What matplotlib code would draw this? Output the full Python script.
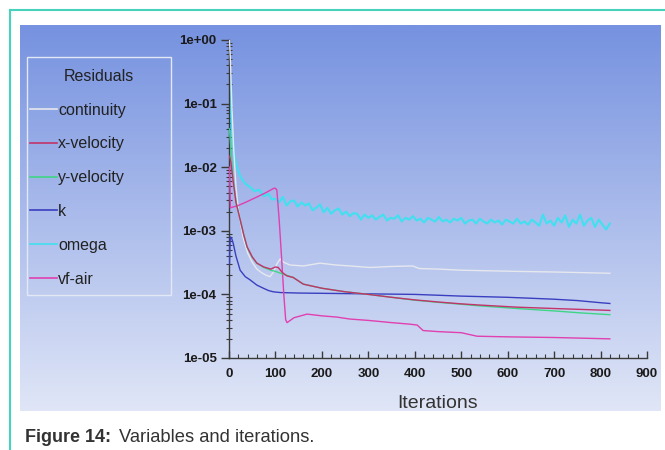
import numpy as np
import matplotlib
matplotlib.use("Agg")
import matplotlib.pyplot as plt
from matplotlib.lines import Line2D
from matplotlib.patches import Rectangle
from matplotlib.ticker import FuncFormatter, LogLocator, MultipleLocator

plt.rcParams['font.family'] = ['Liberation Sans', 'DejaVu Sans']

# ---------------- data ----------------
series_names = ["continuity", "x-velocity", "y-velocity", "k", "omega", "vf-air"]

cont_it = [1, 3, 6, 10, 15, 20, 30, 40, 50, 60, 70, 80, 88, 95, 103, 110, 118, 131, 160, 196, 230, 260, 304, 350, 395, 410, 450, 500, 560, 620, 700, 760, 820]
cont_val = [1.0, 0.5, 0.1, 0.02, 5e-3, 2.2e-3, 8e-4, 4.5e-4, 3.2e-4, 2.5e-4, 2.2e-4, 2.0e-4, 1.9e-4, 2.2e-4, 3.0e-4, 3.6e-4, 3.2e-4, 2.9e-4, 2.8e-4, 3.1e-4, 2.9e-4, 2.8e-4, 2.65e-4, 2.75e-4, 2.8e-4, 2.55e-4, 2.5e-4, 2.4e-4, 2.35e-4, 2.3e-4, 2.25e-4, 2.2e-4, 2.15e-4]

xvel_it = [1, 4, 9, 15, 24, 32, 39, 50, 60, 75, 90, 100, 106, 115, 125, 138, 160, 200, 250, 300, 350, 400, 450, 500, 540, 620, 700, 760, 820]
xvel_val = [0.015, 0.012, 6e-3, 2.8e-3, 1.5e-3, 8.5e-4, 5.6e-4, 3.9e-4, 3.1e-4, 2.7e-4, 2.5e-4, 2.7e-4, 2.65e-4, 2.2e-4, 1.95e-4, 1.85e-4, 1.45e-4, 1.25e-4, 1.1e-4, 1.0e-4, 9.0e-5, 8.2e-5, 7.6e-5, 7.1e-5, 6.8e-5, 6.3e-5, 6.0e-5, 5.8e-5, 5.6e-5]

yvel_it = [1, 4, 9, 15, 24, 32, 39, 50, 60, 75, 90, 100, 115, 138, 160, 200, 250, 300, 350, 400, 450, 500, 540, 620, 700, 760, 820]
yvel_val = [0.04, 0.02, 6.5e-3, 2.9e-3, 1.5e-3, 8.5e-4, 5.5e-4, 3.8e-4, 3.1e-4, 2.65e-4, 2.4e-4, 2.3e-4, 2.1e-4, 1.85e-4, 1.45e-4, 1.25e-4, 1.1e-4, 1.0e-4, 9.0e-5, 8.1e-5, 7.5e-5, 7.0e-5, 6.6e-5, 6.0e-5, 5.5e-5, 5.1e-5, 4.8e-5]

k_it = [1, 2, 3, 6, 9, 15, 24, 35, 45, 60, 73, 85, 95, 110, 150, 200, 300, 400, 450, 500, 550, 600, 650, 700, 750, 800, 820]
k_val = [3e-4, 6e-4, 8e-4, 7.5e-4, 6.4e-4, 4e-4, 2.4e-4, 1.9e-4, 1.7e-4, 1.4e-4, 1.26e-4, 1.15e-4, 1.1e-4, 1.07e-4, 1.05e-4, 1.04e-4, 1.02e-4, 1.0e-4, 9.7e-5, 9.4e-5, 9.2e-5, 9.0e-5, 8.7e-5, 8.4e-5, 8.0e-5, 7.4e-5, 7.2e-5]

omega_it = [1, 3, 6, 10, 17, 25, 35, 45, 55, 65, 75, 85, 92,
            100, 108, 116, 124, 132, 140, 148, 156, 164, 172, 180, 188, 196, 204, 212, 220, 228, 236, 244, 252,
            260, 268, 276, 284, 292, 300, 308, 316, 324, 332, 340, 348, 356, 364, 372, 380, 388, 396, 404, 412,
            420, 428, 436, 444, 452, 460, 468, 476, 484, 492, 500, 508, 516, 524, 532, 540, 548, 556, 564, 572,
            580, 588, 596, 604, 612, 620, 628, 636, 644, 652, 660, 668, 676, 684, 692, 700, 708, 716, 724, 732,
            740, 748, 756, 764, 772, 780, 788, 796, 804, 812, 820]
omega_val = [0.30, 0.12, 0.04, 0.018, 0.010, 7e-3, 5.5e-3, 4.9e-3, 4.2e-3, 4.4e-3, 3.5e-3, 3.8e-3, 3.1e-3,
             3.2e-3, 2.8e-3, 3.4e-3, 2.5e-3, 2.9e-3, 3.0e-3, 2.4e-3, 2.8e-3, 2.5e-3, 2.7e-3, 2.1e-3, 2.3e-3, 2.6e-3, 1.95e-3, 2.3e-3, 1.85e-3, 2.1e-3, 2.25e-3, 1.8e-3, 2.0e-3,
             1.7e-3, 1.9e-3, 1.85e-3, 1.5e-3, 1.8e-3, 1.6e-3, 1.75e-3, 1.5e-3, 1.65e-3, 1.8e-3, 1.45e-3, 1.6e-3, 1.55e-3, 1.75e-3, 1.4e-3, 1.6e-3, 1.5e-3, 1.7e-3, 1.45e-3, 1.55e-3,
             1.35e-3, 1.6e-3, 1.5e-3, 1.4e-3, 1.65e-3, 1.4e-3, 1.5e-3, 1.35e-3, 1.55e-3, 1.45e-3, 1.6e-3, 1.3e-3, 1.45e-3, 1.5e-3, 1.3e-3, 1.55e-3, 1.4e-3, 1.3e-3, 1.5e-3, 1.35e-3,
             1.45e-3, 1.25e-3, 1.5e-3, 1.4e-3, 1.3e-3, 1.55e-3, 1.3e-3, 1.4e-3, 1.25e-3, 1.5e-3, 1.35e-3, 1.2e-3, 1.8e-3, 1.3e-3, 1.45e-3, 1.2e-3, 1.6e-3, 1.35e-3, 1.75e-3, 1.15e-3,
             1.5e-3, 1.3e-3, 1.8e-3, 1.2e-3, 1.45e-3, 1.6e-3, 1.15e-3, 1.5e-3, 1.25e-3, 1.05e-3, 1.3e-3]

vf_it = [1, 3, 20, 40, 60, 80, 95, 99, 103, 108, 113, 118, 122, 125, 140, 168, 200, 232, 260, 300, 350, 390, 405, 418, 450, 500, 534, 600, 700, 760, 820]
vf_val = [1e-2, 2.3e-3, 2.5e-3, 2.9e-3, 3.4e-3, 4.0e-3, 4.6e-3, 4.7e-3, 4.4e-3, 1.5e-3, 4e-4, 1e-4, 4e-5, 3.6e-5, 4.3e-5, 4.9e-5, 4.6e-5, 4.4e-5, 4.1e-5, 3.9e-5, 3.6e-5, 3.4e-5, 3.3e-5, 2.7e-5, 2.6e-5, 2.5e-5, 2.2e-5, 2.15e-5, 2.1e-5, 2.05e-5, 2.0e-5]

x_ticks = [0, 100, 200, 300, 400, 500, 600, 700, 800, 900]
y_ticks = [1e-5, 1e-4, 1e-3, 1e-2, 1e-1, 1e0]

colors = {"continuity": "#E6E8EE", "x-velocity": "#C2336A", "y-velocity": "#3ED585",
          "k": "#3A3FC0", "omega": "#40E0F0", "vf-air": "#E040B0"}

# ---------------- figure ----------------
W, H = 665, 450
fig = plt.figure(figsize=(W / 100, H / 100), dpi=100)
fig.patch.set_facecolor("white")

# gradient panel
bg = fig.add_axes([20 / W, 1 - 411 / H, (661 - 20) / W, (411 - 25) / H], zorder=0)
top = np.array([118, 146, 224]) / 255
bot = np.array([224, 230, 247]) / 255
t = np.linspace(0, 1, 256)[:, None]
grad = (top[None, :] * (1 - t) + bot[None, :] * t)[:, None, :]
bg.imshow(grad, aspect="auto", extent=[0, 1, 0, 1])
bg.axis("off")

# teal frame lines
fig.add_artist(Line2D([10 / W, 1.0], [1 - 10 / H, 1 - 10 / H], transform=fig.transFigure, color="#45D3BC", lw=1.5))
fig.add_artist(Line2D([10 / W, 10 / W], [1 - 10 / H, 0.0], transform=fig.transFigure, color="#45D3BC", lw=1.5))

ax = fig.add_axes([229 / W, 1 - 358 / H, (647 - 229) / W, (358 - 40) / H], zorder=2)
ax.patch.set_alpha(0)
ax.set_yscale("log")
ax.set_xlim(0, 900)
ax.set_ylim(1e-5, 1e0)

lw = 1.0
ax.plot(omega_it, omega_val, color=colors["omega"], lw=1.5, label="omega", zorder=2)
ax.plot(cont_it, cont_val, color=colors["continuity"], lw=lw, label="continuity", zorder=3)
ax.plot(k_it, k_val, color=colors["k"], lw=lw, label="k", zorder=3)
ax.plot(vf_it, vf_val, color=colors["vf-air"], lw=lw, label="vf-air", zorder=3)
ax.plot(yvel_it, yvel_val, color=colors["y-velocity"], lw=lw, label="y-velocity", zorder=4)
ax.plot(xvel_it, xvel_val, color=colors["x-velocity"], lw=lw, label="x-velocity", zorder=5)

for s in ["top", "right"]:
    ax.spines[s].set_visible(False)
for s in ["left", "bottom"]:
    ax.spines[s].set_color("#3A3A3A")
    ax.spines[s].set_linewidth(1.0)

ax.set_xticks(x_ticks)
ax.xaxis.set_minor_locator(MultipleLocator(20))
ax.set_yticks(y_ticks)
ax.yaxis.set_minor_locator(LogLocator(base=10, subs=np.arange(2, 10)))
ax.yaxis.set_major_formatter(FuncFormatter(lambda v, p: format(v, ".0e")))
ax.yaxis.set_minor_formatter(FuncFormatter(lambda v, p: ""))
ax.tick_params(axis="y", which="major", direction="out", length=6, width=1, color="#3A3A3A",
               labelsize=9.5, pad=3, labelcolor="#1A1A1A")
ax.tick_params(axis="y", which="minor", direction="inout", length=4, width=0.8, color="#3A3A3A")
ax.tick_params(axis="x", which="major", direction="in", length=5, width=1, color="#3A3A3A",
               labelsize=9.5, pad=7, labelcolor="#1A1A1A")
ax.tick_params(axis="x", which="minor", direction="in", length=3, width=0.8, color="#3A3A3A")
for lab in ax.get_xticklabels() + ax.get_yticklabels():
    lab.set_fontweight("bold")

fig.text(438 / W, 1 - 403 / H, "Iterations", fontsize=14, color="#333333", ha="center", va="center")

# legend box
fig.add_artist(Rectangle((27 / W, 1 - 295 / H), (171 - 27) / W, (295 - 57) / H,
                         transform=fig.transFigure, fill=False, edgecolor="#E2E8F5", lw=1.0, zorder=4))
handles = [Line2D([], [], color=colors[n], lw=1.2) for n in series_names]
leg = fig.legend(handles, series_names, loc="upper left",
                 bbox_to_anchor=(27 / W, 1 - 295 / H, (171 - 27) / W, (295 - 65.5) / H),
                 mode="expand", title="Residuals", fontsize=11.5, title_fontsize=11.5,
                 frameon=False, handlelength=1.7, handletextpad=0.05,
                 labelspacing=1.18, borderpad=0.2, borderaxespad=0, labelcolor="#222222")
leg.get_title().set_color("#222222")
leg.set_zorder(5)

# caption
fig.text(25 / W, 1 - 437 / H, "Figure 14:", fontsize=13, fontweight="bold", color="#333333", va="center")
fig.text(119 / W, 1 - 437 / H, "Variables and iterations.", fontsize=13.2, color="#333333", va="center")

fig.savefig("out.png", dpi=100)
